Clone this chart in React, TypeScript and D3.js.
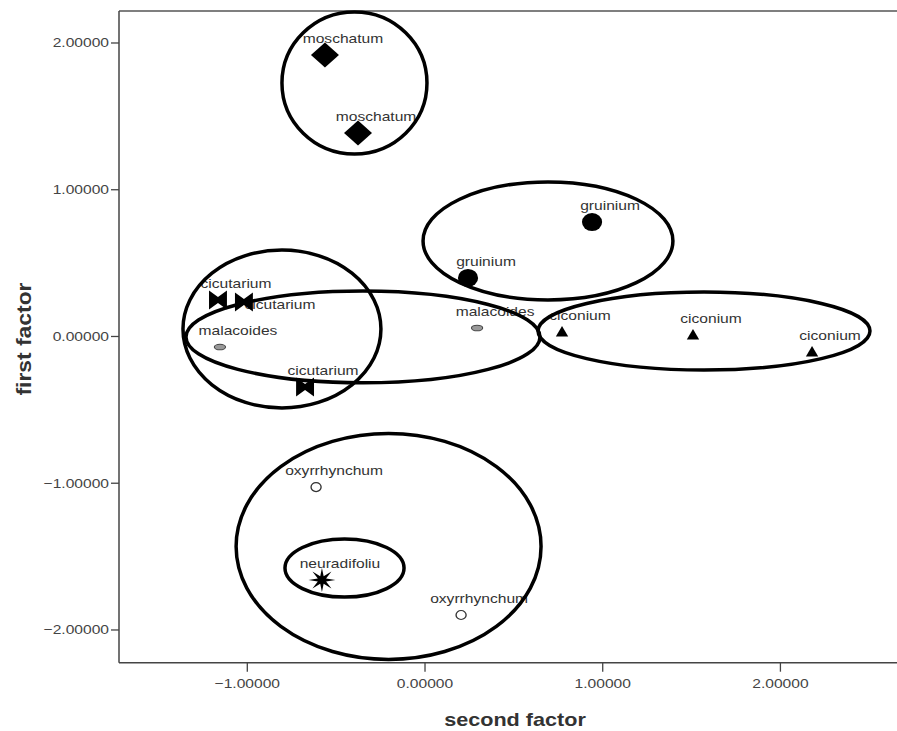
import React from 'react';
import * as d3 from 'd3';

const W = 897;
const H = 731;

// species label of each case
const caseLabels = [
  'moschatum', 'moschatum',
  'gruinium', 'gruinium',
  'malacoides', 'malacoides',
  'cicutarium', 'cicutarium', 'cicutarium',
  'ciconium', 'ciconium', 'ciconium',
  'oxyrrhynchum', 'oxyrrhynchum',
  'neuradifoliu',
];
const secondFactor = [-0.563, -0.377, 0.94, 0.242, 0.293, -1.154, -1.165, -1.019, -0.675, 0.771, 1.508, 2.178, -0.613, 0.203, -0.58];
const firstFactor = [1.918, 1.387, 0.78, 0.399, 0.058, -0.072, 0.249, 0.235, -0.344, 0.031, 0.01, -0.106, -1.026, -1.898, -1.659];

// grouping ellipses (data units)
const groupNames = ['moschatum', 'gruinium', 'cicutarium', 'malacoides', 'ciconium', 'oxyrrhynchum', 'neuradifoliu'];
const groupCx = [-0.397, 0.692, -0.805, -0.349, 1.57, -0.205, -0.453];
const groupCy = [1.727, 0.651, 0.051, -0.003, 0.037, -1.431, -1.578];
const groupRx = [0.408, 0.703, 0.557, 0.996, 0.934, 0.858, 0.335];
const groupRy = [0.484, 0.402, 0.538, 0.313, 0.266, 0.77, 0.198];

const xTicks = [-1, 0, 1, 2];
const yTicks = [-2, -1, 0, 1, 2];

const plot = { left: 119, top: 11, right: 897, bottom: 662.7 };

const x = d3.scaleLinear().domain([-1.722, 2.656]).range([plot.left, plot.right]);
const y = d3.scaleLinear().domain([-2.223, 2.218]).range([plot.bottom, plot.top]);
const fmt = d3.format('.5f');

const FONT = '"Liberation Sans", Arial, sans-serif';
const SX = 1.2; // text looks horizontally stretched in the original

// the 2nd cicutarium label got pushed to the right of its marker
const labelOffset = (i: number) => (i === 7 ? [36, 7] : [18, -12]);

function starPath(n: number, outer: number, inner: number) {
  const pts: [number, number][] = [];
  for (let i = 0; i < n * 2; i++) {
    const a = (Math.PI * i) / n;
    const r = i % 2 === 0 ? outer : inner;
    pts.push([Math.sin(a) * r, -Math.cos(a) * r]);
  }
  return d3.line()(pts) + 'Z';
}

function Marker({ kind }: { kind: string }) {
  switch (kind) {
    case 'moschatum':
      return <path d="M0,-12.5L12.5,0L0,12.5L-12.5,0Z" fill="#000" />;
    case 'gruinium':
      return <circle r={9} fill="#000" />;
    case 'malacoides':
      return <ellipse rx={5} ry={2.8} fill="#999" stroke="#444" strokeWidth={1} />;
    case 'cicutarium':
      return <path d="M-8,-9.5L0,-3L8,-9.5L8,9.5L0,3L-8,9.5Z" fill="#000" />;
    case 'ciconium':
      return <path d="M0,-6L5.5,4.5L-5.5,4.5Z" fill="#000" />;
    case 'oxyrrhynchum':
      return <circle r={4.5} fill="#fff" stroke="#333" strokeWidth={1.2} />;
    case 'neuradifoliu':
      return <path d={starPath(8, 12, 4)} fill="#000" />;
    default:
      return null;
  }
}

export default function App() {
  return (
    <svg width={W} height={H} style={{ position: 'absolute', left: 0, top: 0, display: 'block', background: '#fff' }}>
      {/* frame */}
      <line x1={plot.left} x2={plot.right} y1={plot.top} y2={plot.top} stroke="#555" strokeWidth={1.5} />
      <line x1={plot.left} x2={plot.left} y1={plot.top} y2={plot.bottom} stroke="#444" strokeWidth={1.5} />
      <line x1={plot.left} x2={plot.right} y1={plot.bottom} y2={plot.bottom} stroke="#444" strokeWidth={1.5} />

      {/* y axis */}
      {yTicks.map(t => (
        <g key={'y' + t} transform={`translate(0,${y(t)})`}>
          <line x1={plot.left - 8} x2={plot.left} stroke="#444" strokeWidth={1.3} />
          <text transform={`translate(${plot.left - 10},4.5) scale(${SX},1)`} textAnchor="end" fontFamily={FONT} fontSize={13} fill="#444">
            {fmt(t)}
          </text>
        </g>
      ))}

      {/* x axis */}
      {xTicks.map(t => (
        <g key={'x' + t} transform={`translate(${x(t)},0)`}>
          <line y1={plot.bottom} y2={plot.bottom + 9} stroke="#444" strokeWidth={1.3} />
          <text transform={`translate(0,${plot.bottom + 25}) scale(${SX},1)`} textAnchor="middle" fontFamily={FONT} fontSize={13} fill="#444">
            {fmt(t)}
          </text>
        </g>
      ))}

      {/* axis titles */}
      <text transform={`translate(515,726) scale(${SX},1)`} textAnchor="middle" fontFamily={FONT} fontSize={18} fontWeight="bold" fill="#333">
        second factor
      </text>
      <text transform={`translate(31,339) rotate(-90) scale(1.27,1.1)`} textAnchor="middle" fontFamily={FONT} fontSize={18} fontWeight="bold" fill="#333">
        first factor
      </text>

      {/* case labels */}
      {caseLabels.map((lab, i) => {
        const [dx, dy] = labelOffset(i);
        return (
          <text key={'l' + i} transform={`translate(${x(secondFactor[i]) + dx},${y(firstFactor[i]) + dy}) scale(${SX},1)`}
            textAnchor="middle" fontFamily={FONT} fontSize={13} fill="#333">
            {lab}
          </text>
        );
      })}

      {/* markers */}
      {caseLabels.map((lab, i) => (
        <g key={'m' + i} transform={`translate(${x(secondFactor[i])},${y(firstFactor[i])}) scale(1.12,1)`}>
          <Marker kind={lab} />
        </g>
      ))}

      {/* group ellipses */}
      {groupNames.map((g, i) => (
        <ellipse key={g} cx={x(groupCx[i])} cy={y(groupCy[i])}
          rx={x(groupCx[i] + groupRx[i]) - x(groupCx[i])}
          ry={y(groupCy[i]) - y(groupCy[i] + groupRy[i])}
          fill="none" stroke="#000" strokeWidth={3.5} />
      ))}
    </svg>
  );
}
